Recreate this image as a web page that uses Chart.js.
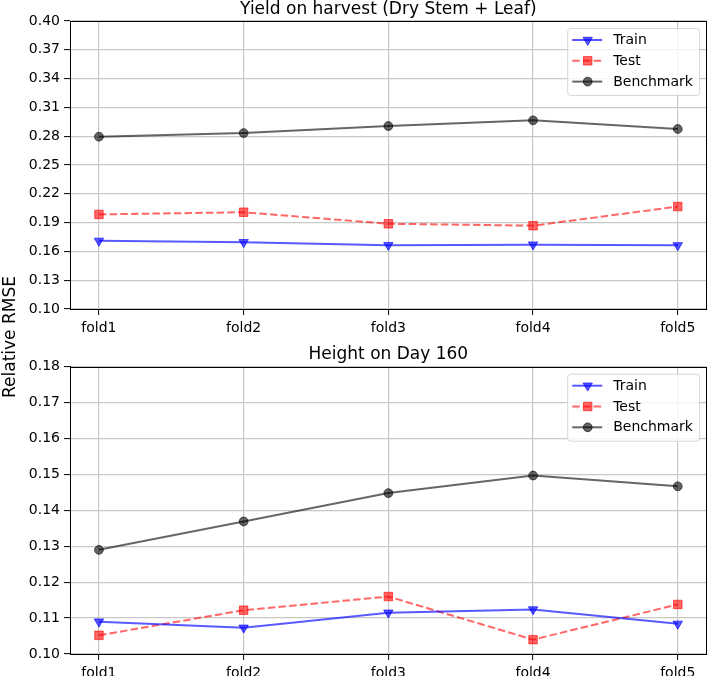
<!DOCTYPE html>
<html><head><meta charset="utf-8">
<script src="https://cdn.jsdelivr.net/npm/chart.js@4.4.1/dist/chart.umd.min.js"></script>
<style>
html,body{margin:0;padding:0;background:#fff;}
#wrap{position:relative;width:708px;height:676px;overflow:hidden;}
.c{position:absolute;left:0;width:708px;height:338px;}
#ylab{position:absolute;left:8.5px;top:337px;transform:translate(-50%,-50%) rotate(-90deg);font:17px 'DejaVu Sans';white-space:nowrap;color:#000;}
</style></head>
<body>
<div id="wrap">
<div class="c" style="top:0"><canvas id="c1" width="708" height="338"></canvas></div>
<div class="c" style="top:338px"><canvas id="c2" width="708" height="338"></canvas></div>
<div id="ylab">Relative RMSE</div>
</div>
<script>
// ---- data ----
const folds = ['fold1','fold2','fold3','fold4','fold5'];
const seriesNames = ['Train','Test','Benchmark'];

const title1 = 'Yield on harvest (Dry Stem + Leaf)';
const train1 = [0.1710, 0.1695, 0.1665, 0.1670, 0.1663];
const test1  = [0.1985, 0.2008, 0.1888, 0.1868, 0.2067];
const bench1 = [0.2795, 0.2833, 0.2906, 0.2965, 0.2875];
const yTicks1 = [0.10, 0.13, 0.16, 0.19, 0.22, 0.25, 0.28, 0.31, 0.34, 0.37, 0.40];

const title2 = 'Height on Day 160';
const train2 = [0.1090, 0.1073, 0.1115, 0.1124, 0.1084];
const test2  = [0.1052, 0.1122, 0.1160, 0.1040, 0.1138];
const bench2 = [0.1290, 0.1369, 0.1448, 0.1497, 0.1467];
const yTicks2 = [0.10, 0.11, 0.12, 0.13, 0.14, 0.15, 0.16, 0.17, 0.18];

// ---- styles ----
const FONT = "'DejaVu Sans', sans-serif";
Chart.defaults.color = '#000';
Chart.defaults.font.family = FONT;

const styles = [
  {color:'rgba(0,0,255,0.65)', pointStyle:'triangle', rotation:180, radius:5.4, dash:[]},
  {color:'rgba(255,0,0,0.6)', pointStyle:'rect', rotation:0, radius:6, dash:[7.5,3.2]},
  {color:'rgba(0,0,0,0.6)', pointStyle:'circle', rotation:0, radius:4.4, dash:[]}
];

function makeDatasets(list){
  return list.map((vals, i) => {
    const s = styles[i];
    return {
      label: seriesNames[i],
      data: vals.map((v, k) => ({x:k, y:v})),
      borderColor: s.color,
      backgroundColor: s.color,
      pointBackgroundColor: s.color,
      pointBorderColor: s.color,
      pointBorderWidth: 1,
      pointStyle: s.pointStyle,
      pointRotation: s.rotation,
      pointRadius: s.radius,
      borderWidth: 2,
      borderDash: s.dash,
      tension: 0,
      fill: false
    };
  });
}

const mplPlugin = {
  id: 'mpl',
  afterDraw(chart){
    const {ctx, chartArea:a} = chart;
    const opts = chart.options.plugins.mpl;
    ctx.save();
    // frame
    ctx.strokeStyle = '#000'; ctx.lineWidth = 1;
    ctx.strokeRect(Math.round(a.left)+0.5, Math.round(a.top)+0.5, Math.round(a.right-a.left)-1, Math.round(a.bottom-a.top));
    // title
    ctx.fillStyle = '#000';
    ctx.font = '17px ' + FONT;
    ctx.textAlign = 'center'; ctx.textBaseline = 'alphabetic';
    ctx.fillText(opts.title, (a.left + a.right)/2, a.top - 7.5);
    // legend
    const w = 132, h = 67;
    const x = a.right - 7.5 - w, y = a.top + 7;
    ctx.fillStyle = 'rgba(255,255,255,0.8)';
    ctx.strokeStyle = '#d6d6d6'; ctx.lineWidth = 1;
    ctx.beginPath();
    if (ctx.roundRect) ctx.roundRect(x+0.5, y+0.5, w, h, 3); else ctx.rect(x+0.5, y+0.5, w, h);
    ctx.fill(); ctx.stroke();
    chart.data.datasets.forEach((ds, i) => {
      const cy = y + 12 + i * 20.8;
      ctx.strokeStyle = ds.borderColor; ctx.lineWidth = ds.borderWidth;
      ctx.setLineDash(ds.borderDash || []);
      ctx.beginPath(); ctx.moveTo(x + 5, cy); ctx.lineTo(x + 35, cy); ctx.stroke();
      ctx.setLineDash([]);
      ctx.fillStyle = ds.pointBackgroundColor; ctx.strokeStyle = ds.pointBorderColor; ctx.lineWidth = 1;
      Chart.helpers.drawPoint(ctx, {pointStyle: ds.pointStyle, rotation: ds.pointRotation, radius: ds.pointRadius, borderWidth: 1}, x + 20.5, cy);
      ctx.fillStyle = '#000';
      ctx.font = '14px ' + FONT;
      ctx.textAlign = 'left'; ctx.textBaseline = 'middle';
      ctx.fillText(ds.label, x + 46, cy + 0.5);
    });
    ctx.restore();
  }
};

function makeChart(id, title, lists, yTicks, topPad, xAxisH){
  const yMin = yTicks[0], yMax = yTicks[yTicks.length-1];
  return new Chart(document.getElementById(id), {
    type: 'line',
    data: { datasets: makeDatasets(lists) },
    plugins: [mplPlugin],
    options: {
      responsive: false,
      devicePixelRatio: 1,
      animation: false,
      layout: { autoPadding: false, padding: {top: topPad, right: 1.3, left: 0, bottom: 0} },
      plugins: {
        legend: {display: false},
        title: {display: false},
        tooltip: {enabled: false},
        mpl: {title: title}
      },
      scales: {
        x: {
          type: 'linear', min: -0.2, max: 4.2,
          afterBuildTicks: s => { s.ticks = folds.map((_, k) => ({value: k})); },
          afterFit: s => { s.height = xAxisH; s.paddingLeft = 0; s.paddingRight = 0; },
          ticks: { callback: v => folds[v], autoSkip: false, maxRotation: 0, font: {size: 14, family: FONT}, color: '#000', padding: 4.5 },
          grid: { color: '#c8c8c8', lineWidth: 1.2, tickLength: 6, tickColor: '#000', tickWidth: 1 },
          border: { color: '#000', width: 1 }
        },
        y: {
          type: 'linear', min: yMin, max: yMax,
          afterBuildTicks: s => { s.ticks = yTicks.map(v => ({value: v})); },
          afterFit: s => { s.width = 70; s.paddingTop = 0; s.paddingBottom = 0; },
          ticks: { callback: v => Number(v).toFixed(2), autoSkip: false, font: {size: 14, family: FONT}, color: '#000', padding: 4 },
          grid: { color: '#c8c8c8', lineWidth: 1.2, tickLength: 6, tickColor: '#000', tickWidth: 1 },
          border: { color: '#000', width: 1 }
        }
      }
    }
  });
}

makeChart('c1', title1, [train1, test1, bench1], yTicks1, 21, 29);
makeChart('c2', title2, [train2, test2, bench2], yTicks2, 28.7, 22);
</script>
</body></html>
